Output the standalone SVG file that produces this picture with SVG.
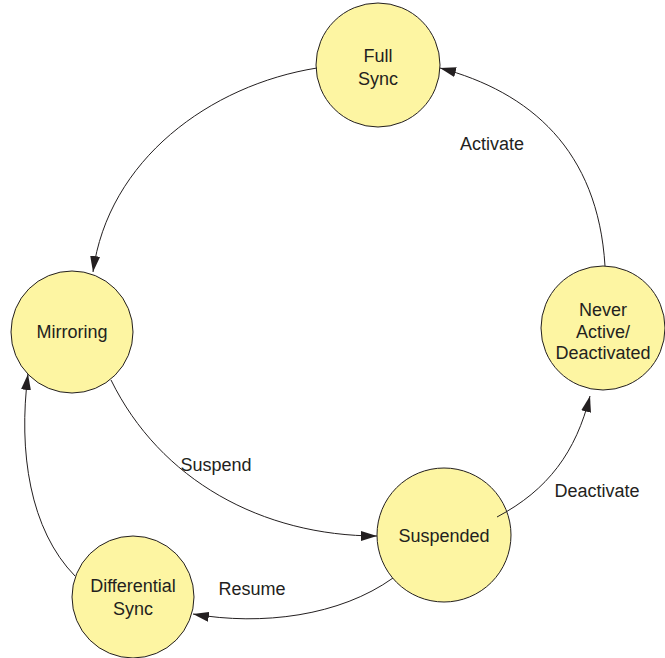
<svg xmlns="http://www.w3.org/2000/svg" width="665" height="658" viewBox="0 0 665 658">
  <style>
    .state { fill: #fdf5a2; stroke: #231f20; stroke-width: 1; }
    .name { font-family: "Liberation Sans", Arial, sans-serif; font-size: 18px; fill: #231f20; text-anchor: middle; }
    .edge { fill: none; stroke: #231f20; stroke-width: 1; }
    .label { font-family: "Liberation Sans", Arial, sans-serif; font-size: 18px; fill: #231f20; text-anchor: middle; }
  </style>
  <defs>
    <marker id="arrow" viewBox="0 0 16 10" refX="16" refY="5" markerWidth="16" markerHeight="10" markerUnits="userSpaceOnUse" orient="auto">
      <path d="M0,0 L16,5 L0,10 Z" fill="#231f20"/>
    </marker>
  </defs>

  <rect width="665" height="658" fill="#ffffff"/>

  <g id="full-sync">
    <circle class="state" cx="378" cy="65" r="62"/>
    <text class="name" x="378" y="62">Full</text>
    <text class="name" x="378" y="85">Sync</text>
  </g>

  <g id="mirroring">
    <circle class="state" cx="72" cy="332" r="61"/>
    <text class="name" x="72" y="338">Mirroring</text>
  </g>

  <g id="never-active">
    <circle class="state" cx="603" cy="328" r="62"/>
    <text class="name" x="603" y="316">Never</text>
    <text class="name" x="603" y="338">Active/</text>
    <text class="name" x="603" y="359">Deactivated</text>
  </g>

  <g id="suspended">
    <circle class="state" cx="444" cy="535" r="67"/>
    <text class="name" x="444" y="542">Suspended</text>
  </g>

  <g id="differential-sync">
    <circle class="state" cx="133" cy="597" r="61"/>
    <text class="name" x="133" y="592">Differential</text>
    <text class="name" x="133" y="615">Sync</text>
  </g>

  <!-- transitions drawn over the states so the Deactivate line shows its start inside Suspended -->
  <g id="connectors">
    <path class="edge" d="M317,68 C210,85 108,160 93,272" marker-end="url(#arrow)"/>
    <path class="edge" d="M605,266 C598,150 530,92 440,68" marker-end="url(#arrow)"/>
    <path class="edge" d="M111,380 C160,480 262,536 377,536" marker-end="url(#arrow)"/>
    <path class="edge" d="M497,517 C548,490 576,452 590,396" marker-end="url(#arrow)"/>
    <path class="edge" d="M393,578 C340,616 262,626 193,614" marker-end="url(#arrow)"/>
    <path class="edge" d="M75,576 C30,530 18,452 28,374" marker-end="url(#arrow)"/>
    <text class="label" x="492" y="150">Activate</text>
    <text class="label" x="216" y="471">Suspend</text>
    <text class="label" x="597" y="497">Deactivate</text>
    <text class="label" x="252" y="595">Resume</text>
  </g>
</svg>
